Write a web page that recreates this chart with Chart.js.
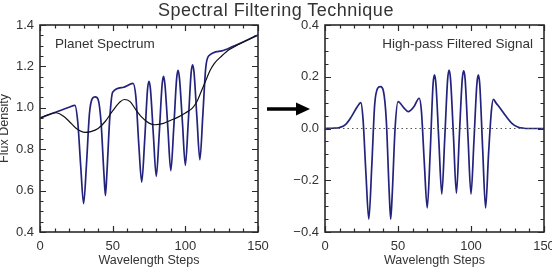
<!DOCTYPE html>
<html>
<head>
<meta charset="utf-8">
<script src="https://cdn.jsdelivr.net/npm/chart.js@4"></script>
<style>
  html, body { margin: 0; padding: 0; background: #fff; }
  body { position: relative; width: 552px; height: 267px; overflow: hidden; font-family: "Liberation Sans", Arial, sans-serif; color: #333; }
  canvas { position: absolute; top: 0; }
  #leftChart { left: 0; }
  #rightChart { left: 276px; }
  .txt { position: absolute; white-space: nowrap; }
  #title { top: 1px; left: 0; width: 552px; text-align: center; font-size: 18px; line-height: 18px; letter-spacing: 0.5px; }
  #lab1 { left: 55px; top: 37px; font-size: 13.5px; line-height: 13px; }
  #lab2 { right: 19px; top: 37px; font-size: 13.5px; line-height: 13px; }
  #arrow { position: absolute; left: 264px; top: 98px; z-index: 5; }
</style>
</head>
<body>
<canvas id="leftChart" width="276" height="267"></canvas>
<canvas id="rightChart" width="290" height="267"></canvas>
<div class="txt" id="title">Spectral Filtering Technique</div>
<div class="txt" id="lab1">Planet Spectrum</div>
<div class="txt" id="lab2">High-pass Filtered Signal</div>
<svg id="arrow" width="50" height="22">
  <line x1="3" y1="11" x2="34" y2="11" stroke="#000" stroke-width="3.5"/>
  <polygon points="32,4.5 46,11 32,17.5" fill="#000"/>
</svg>
<script>
// planet spectrum (blue)
const specX = [0, 10, 20, 24, 26, 28, 30, 32, 34, 36, 38, 40, 42, 44, 45, 46, 48, 50, 57, 64,
  66, 68, 70, 72, 74, 75, 76, 78, 80, 82, 84, 85, 86, 88, 90, 92, 94, 95, 96, 98,
  100, 102, 104, 105, 106, 108, 110, 112, 114, 116, 125, 133, 142, 150];
const specY = [0.950, 0.977, 1.003, 1.012, 0.93, 0.72, 0.537, 0.73, 0.97, 1.045, 1.053, 1.04, 0.93, 0.68, 0.576, 0.68, 0.95, 1.075, 1.098, 1.118,
  1.05, 0.82, 0.641, 0.84, 1.09, 1.128, 1.09, 0.87, 0.669, 0.87, 1.11, 1.152, 1.11, 0.90, 0.696, 0.90, 1.14, 1.181, 1.14, 0.93,
  0.722, 0.93, 1.17, 1.208, 1.17, 0.95, 0.749, 0.96, 1.19, 1.25, 1.275, 1.297, 1.325, 1.352];

// smoothed continuum (black)
const smoothX = [0, 5, 11, 16, 20, 25, 31, 35, 40, 45, 50, 55, 58, 62, 66, 70, 75, 79, 85, 90,
  95, 100, 105, 108, 111, 114, 117, 120, 125, 130, 135, 140, 150];
const smoothY = [0.950, 0.965, 0.976, 0.960, 0.935, 0.900, 0.881, 0.885, 0.900, 0.935, 0.985, 1.028, 1.040, 1.030, 0.990, 0.955, 0.926, 0.918, 0.925, 0.940,
  0.955, 0.975, 1.000, 1.030, 1.080, 1.130, 1.180, 1.215, 1.250, 1.280, 1.300, 1.318, 1.352];

// high-pass filtered signal
const filtX = [0, 5, 10, 14, 18, 22, 24.5, 26, 28, 30, 32, 34, 36, 38, 40, 42, 44, 45, 46, 48,
  50, 54, 57, 61, 64.5, 66, 68, 70, 72, 74, 75, 76, 78, 80, 82, 84, 85, 86, 88, 90,
  92, 94, 95, 96, 98, 100, 102, 104, 105, 106, 108, 110, 112, 114, 115.3, 117, 120, 124, 128, 132,
  136, 140, 150];
const filtY = [0, 0.001, 0.004, 0.015, 0.045, 0.083, 0.100, 0.040, -0.170, -0.350, -0.150, 0.090, 0.155, 0.162, 0.145, 0.030, -0.250, -0.350, -0.260, 0.000,
  0.104, 0.080, 0.065, 0.085, 0.117, 0.070, -0.130, -0.307, -0.100, 0.170, 0.207, 0.170, -0.050, -0.253, -0.040, 0.190, 0.226, 0.190, -0.030, -0.250,
  -0.030, 0.190, 0.223, 0.190, -0.040, -0.253, -0.050, 0.170, 0.207, 0.170, -0.080, -0.307, -0.100, 0.070, 0.113, 0.100, 0.078, 0.047, 0.020, 0.006,
  0.001, 0, 0];

const zeroX = [0, 150];
const zeroY = [0, 0];

const pts = (xs, ys) => xs.map((x, i) => ({ x: x, y: ys[i] }));
const FONT = '"Liberation Sans", Arial, sans-serif';
const INK = '#333';
const BOX = '#2a2a2a';
const fmt = v => v.toFixed(1).replace('-', '\u2212');

// box and IDL-style inward ticks on all four sides (major and minor)
function frameTicks(xMinor, xEvery, yMinor, yEvery) {
  return {
    id: 'frameTicks',
    afterDraw(chart) {
      const ctx = chart.ctx;
      const a = chart.chartArea;
      const x = chart.scales.x, y = chart.scales.y;
      const L = a.left, R = a.right, T = a.top, B = a.bottom;
      ctx.save();
      ctx.strokeStyle = BOX;
      ctx.lineWidth = 1.6;
      ctx.strokeRect(L, T, R - L, B - T);
      ctx.lineWidth = 1.2;
      ctx.beginPath();
      const nx = Math.round((x.max - x.min) / xMinor);
      for (let i = 0; i <= nx; i++) {
        const px = Math.round(x.getPixelForValue(x.min + i * xMinor)) + 0.5;
        const len = i % xEvery === 0 ? 6 : 3.5;
        ctx.moveTo(px, B); ctx.lineTo(px, B - len);
        ctx.moveTo(px, T); ctx.lineTo(px, T + len);
      }
      const ny = Math.round((y.max - y.min) / yMinor);
      for (let i = 0; i <= ny; i++) {
        const py = Math.round(y.getPixelForValue(y.min + i * yMinor)) + 0.5;
        const len = i % yEvery === 0 ? 6 : 3.5;
        ctx.moveTo(L, py); ctx.lineTo(L + len, py);
        ctx.moveTo(R, py); ctx.lineTo(R - len, py);
      }
      ctx.stroke();
      ctx.restore();
    }
  };
}

function makeOptions(yMin, yMax, yWidth, padRight, yTitle) {
  return {
    responsive: false,
    animation: false,
    layout: { padding: { top: 25, right: padRight, bottom: 0, left: 0 } },
    plugins: {
      legend: { display: false },
      tooltip: { enabled: false }
    },
    elements: { point: { radius: 0 } },
    scales: {
      x: {
        type: 'linear', min: 0, max: 150,
        border: { display: false },
        grid: { display: false, drawTicks: false },
        ticks: { stepSize: 50, padding: 7, color: INK, font: { family: FONT, size: 13 }, maxRotation: 0 },
        title: { display: true, text: 'Wavelength Steps', color: INK, font: { family: FONT, size: 12.5, lineHeight: 1.1 }, padding: { top: 0, bottom: 0 } },
        afterFit: s => { s.height = 35; }
      },
      y: {
        type: 'linear', min: yMin, max: yMax,
        border: { display: false },
        grid: { display: false, drawTicks: false },
        ticks: { stepSize: 0.2, padding: 6, color: INK, font: { family: FONT, size: 13 }, callback: fmt },
        title: { display: !!yTitle, text: yTitle || '', color: INK, font: { family: FONT, size: 12.5, lineHeight: 1 }, padding: { top: -2, bottom: 0 } },
        afterFit: s => { s.width = yWidth; }
      }
    }
  };
}

new Chart(document.getElementById('leftChart').getContext('2d'), {
  type: 'line',
  data: {
    datasets: [
      { data: pts(smoothX, smoothY), borderColor: '#111', borderWidth: 1.2, cubicInterpolationMode: 'monotone', fill: false },
      { data: pts(specX, specY), borderColor: '#23237d', borderWidth: 1.7, cubicInterpolationMode: 'monotone', fill: false }
    ]
  },
  options: makeOptions(0.4, 1.4, 40, 18, 'Flux Density'),
  plugins: [frameTicks(10, 5, 0.05, 4)]
});

new Chart(document.getElementById('rightChart').getContext('2d'), {
  type: 'line',
  data: {
    datasets: [
      { data: pts(zeroX, zeroY), borderColor: '#555', borderWidth: 1, borderDash: [1.5, 3], fill: false },
      { data: pts(filtX, filtY), borderColor: '#23237d', borderWidth: 1.7, cubicInterpolationMode: 'monotone', fill: false }
    ]
  },
  options: makeOptions(-0.4, 0.4, 49, 22, ''),
  plugins: [frameTicks(10, 5, 0.05, 4)]
});
</script>
</body>
</html>
